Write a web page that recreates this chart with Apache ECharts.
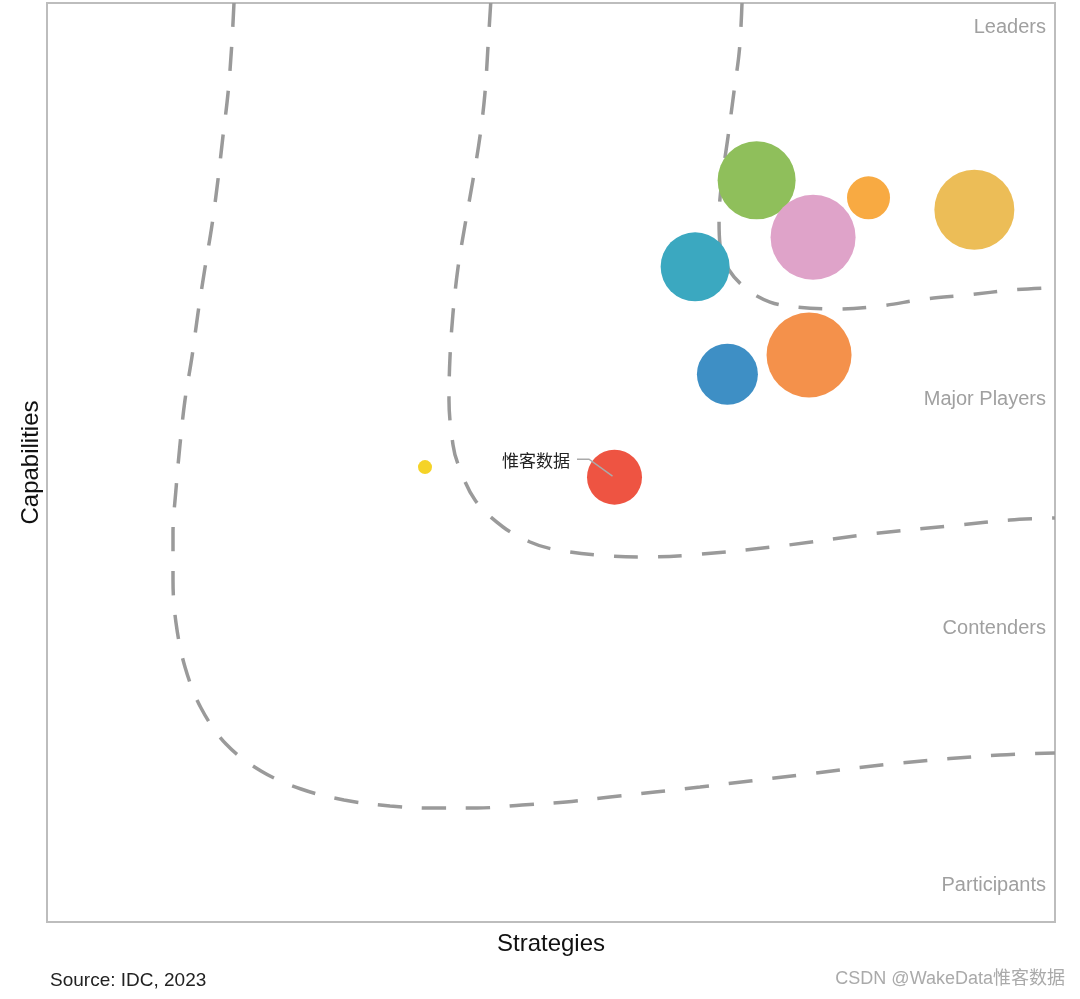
<!DOCTYPE html>
<html>
<head>
<meta charset="utf-8">
<script src="https://cdn.jsdelivr.net/npm/echarts@6/dist/echarts.min.js"></script>
<style>
html,body{margin:0;padding:0;background:#fff;}
#chart{width:1080px;height:999px;}
</style>
</head>
<body>
<div id="chart"></div>
<script>
// ---- Data ----
const vendorNames = ['Vendor G', 'Vendor P', 'Vendor O2', 'Vendor Y', 'Vendor T', 'Vendor O', 'Vendor B', '惟客数据', 'Vendor S'];
const strategiesScore = [70.4, 76.0, 81.5, 92.0, 64.3, 75.6, 67.5, 56.3, 37.5];
const capabilitiesScore = [80.7, 74.5, 78.8, 77.5, 71.3, 61.7, 59.6, 48.4, 49.5];
const marketShare = [39, 42.5, 21.5, 40, 34.5, 42.5, 30.5, 27.5, 7];
const vendorColors = ['#8fbf5b', '#dfa3c9', '#f8aa42', '#ecbd57', '#3ba8c0', '#f4914b', '#3e8fc5', '#ee5442', '#f5d327'];

// Boundary curves (strategies, capabilities)
const participantsBoundary = [
  [18.55,100],[18.32,95.26],[17.96,90.21],[17.46,85.53],[16.96,80.74],[16.37,75.84],
  [15.67,71.16],[14.98,66.27],[14.38,61.48],[13.69,56.80],[13.19,51.90],[12.80,47.12],
  [12.50,42.33],[12.50,37.21],[12.80,32.54],[13.69,27.75],[15.28,23.29],[17.76,19.37],
  [21.23,16.43],[25.20,14.47],[29.46,13.28],[34.03,12.62],[38.29,12.40],[42.66,12.40],
  [47.12,12.73],[51.49,13.06],[55.85,13.60],[64.78,14.69],[74.70,16.00],[84.62,17.30],
  [94.54,18.17],[100,18.39]
];
const contendersBoundary = [
  [44.02,100],[43.75,95.26],[43.45,90.21],[42.96,85.53],[42.26,80.74],[41.47,75.84],
  [40.77,71.16],[40.28,66.27],[39.98,61.48],[39.88,56.80],[40.28,51.90],[40.77,49.84],
  [42.46,45.92],[45.24,42.98],[47.92,41.35],[50.10,40.59],[54.56,39.93],[58.83,39.72],
  [63.79,39.93],[72.72,40.91],[81.65,42.22],[90.58,43.20],[95.54,43.74],[100,43.96]
];
const leadersBoundary = [
  [68.95,100],[68.70,94.99],[68.15,90.32],[67.56,85.42],[66.96,80.74],[66.67,76.61],
  [66.77,73.67],[67.66,70.95],[69.54,68.77],[71.73,67.46],[74.21,66.92],[78.37,66.70],
  [82.64,67.03],[87.10,67.79],[91.37,68.23],[95.73,68.77],[100,69.04]
];

const segmentLabels = ['Leaders', 'Major Players', 'Contenders', 'Participants'];
const labelledVendor = '惟客数据';

// ---- Build ----
const bubbleData = vendorNames.map((n, i) => ({
  name: n,
  value: [strategiesScore[i], capabilitiesScore[i], marketShare[i]],
  itemStyle: { color: vendorColors[i] }
}));
const li = vendorNames.indexOf(labelledVendor);

function dashed(data) {
  return {
    type: 'line', data: data, smooth: 0.35, showSymbol: false, silent: true, z: 1,
    lineStyle: { color: '#9a9a9a', width: 3.5, type: [24, 20] }
  };
}

const chart = echarts.init(document.getElementById('chart'), null, { renderer: 'canvas' });
const segY = [26, 398, 627, 884];
const staticGraphics = segmentLabels.map((t, i) => ({
  type: 'text', right: 34, top: segY[i] - 9,
  style: { text: t, fontSize: 20, fill: '#a0a0a0', fontFamily: 'Liberation Sans' }
})).concat([
  { type: 'text', left: 50, top: 971, style: { text: 'Source: IDC, 2023', fontSize: 19, fill: '#222', fontFamily: 'Liberation Sans' } },
  { type: 'text', right: 15, top: 970, style: { text: 'CSDN @WakeData惟客数据', fontSize: 18, fill: '#aaaaaa', fontFamily: 'Liberation Sans, Noto Sans CJK SC' } }
]);

chart.setOption({
  animation: false,
  grid: { left: 47, right: 25, top: 3, bottom: 77, show: true, borderColor: '#bdbdbd', borderWidth: 2, backgroundColor: 'transparent' },
  xAxis: {
    type: 'value', min: 0, max: 100,
    name: 'Strategies', nameLocation: 'middle', nameGap: 10,
    nameTextStyle: { fontSize: 24, color: '#111', fontFamily: 'Liberation Sans' },
    axisLine: { show: false }, axisTick: { show: false }, axisLabel: { show: false }, splitLine: { show: false }
  },
  yAxis: {
    type: 'value', min: 0, max: 100,
    name: 'Capabilities', nameLocation: 'middle', nameGap: 4,
    nameTextStyle: { fontSize: 24, color: '#111', fontFamily: 'Liberation Sans' },
    axisLine: { show: false }, axisTick: { show: false }, axisLabel: { show: false }, splitLine: { show: false }
  },
  graphic: staticGraphics,
  series: [
    dashed(participantsBoundary),
    dashed(contendersBoundary),
    dashed(leadersBoundary),
    {
      type: 'scatter', z: 3,
      data: bubbleData,
      symbolSize: v => v[2] * 2,
      itemStyle: { opacity: 1 },
      silent: true
    }
  ]
});

// Leader label for the highlighted vendor, positioned from its data point
const c = chart.convertToPixel({ seriesIndex: 3 }, [strategiesScore[li], capabilitiesScore[li]]);
const rad = marketShare[li];
const lx = c[0] - rad - 17, ly = c[1] - 17;
chart.setOption({
  graphic: staticGraphics.concat([
    {
      type: 'polyline', z: 10, silent: true,
      shape: { points: [[lx + 7, ly - 1], [lx + 19, ly - 1], [c[0] - 2, c[1] - 1]] },
      style: { stroke: '#aaaaaa', lineWidth: 1.5, fill: null }
    },
    {
      type: 'text', z: 10, x: lx, y: ly, silent: true,
      style: { text: labelledVendor, fontSize: 17, fill: '#222', fontFamily: 'Noto Sans CJK SC', align: 'right', verticalAlign: 'middle' }
    }
  ])
});
</script>
</body>
</html>
